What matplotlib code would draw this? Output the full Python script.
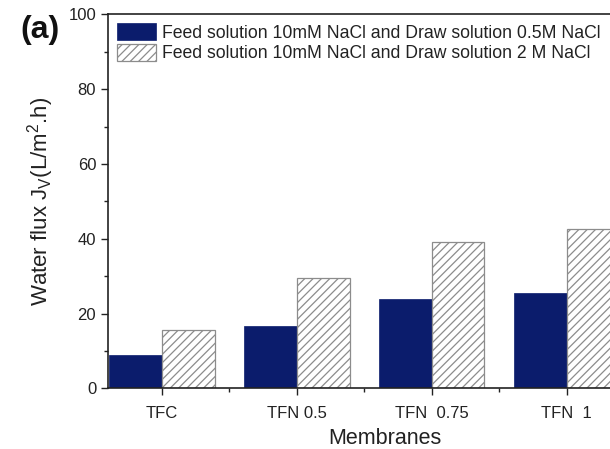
import matplotlib
matplotlib.use("Agg")
import matplotlib.pyplot as plt
from matplotlib.ticker import MultipleLocator, FixedLocator
import numpy as np

plt.rcParams['font.family'] = ['Liberation Sans', 'DejaVu Sans']
plt.rcParams['mathtext.fontset'] = 'custom'
plt.rcParams['mathtext.rm'] = 'Liberation Sans'
plt.rcParams['hatch.color'] = '#8c8c8c'
plt.rcParams['hatch.linewidth'] = 0.9

membranes = ['TFC', 'TFN 0.5', 'TFN  0.75', 'TFN  1']
flux_05M = [8.8, 16.8, 23.8, 25.4]
flux_2M = [15.7, 29.6, 39.2, 42.5]
legend_labels = ['Feed solution 10mM NaCl and Draw solution 0.5M NaCl',
                 'Feed solution 10mM NaCl and Draw solution 2 M NaCl']

fig = plt.figure(figsize=(6.10, 4.49), dpi=100)
# the plot frame runs past the right edge of the figure
ax = fig.add_axes([0.177, 0.135, 0.907, 0.833])

x = np.arange(len(membranes))
w = 0.39
ax.bar(x - w / 2, flux_05M, width=w, color='#0b1c6c', edgecolor='#0b1c6c',
       linewidth=0.5, label=legend_labels[0])
ax.bar(x + w / 2, flux_2M, width=w, color='white', edgecolor='#8c8c8c',
       hatch='////', linewidth=0.9, label=legend_labels[1])

ax.set_xlim(-0.40, 3.70)
ax.set_ylim(0, 100)
ax.yaxis.set_major_locator(MultipleLocator(20))
ax.yaxis.set_minor_locator(MultipleLocator(10))
ax.set_xticks(x)
ax.set_xticklabels(membranes)
ax.xaxis.set_minor_locator(FixedLocator(x[:-1] + 0.5))

ax.tick_params(axis='both', which='major', direction='out', length=5,
               width=1.0, labelsize=12, colors='#222222', labelcolor='#222222')
ax.tick_params(axis='both', which='minor', direction='out', length=3,
               width=1.0, colors='#222222')
ax.tick_params(axis='x', which='major', pad=8)
for side in ['left', 'bottom', 'top', 'right']:
    ax.spines[side].set_linewidth(1.2)
    ax.spines[side].set_color('#222222')

ax.set_xlabel('Membranes', fontsize=15.5, color='#222222', labelpad=5)
ax.set_ylabel(r'Water flux J$_\mathregular{V}$(L/m$^\mathregular{2}$.h)',
              fontsize=16, color='#222222', labelpad=9)

ax.legend(loc='upper left', bbox_to_anchor=(0.0, 1.0), frameon=False,
          fontsize=12.7, handlelength=2.2, handleheight=1.12,
          handletextpad=0.34, borderpad=0.2, borderaxespad=0.3,
          labelspacing=0.1, labelcolor='#222222')

fig.text(0.034, 0.915, '(a)', fontsize=23, fontweight='bold', color='#111111',
         va='baseline')

fig.savefig('out.png', dpi=100)
